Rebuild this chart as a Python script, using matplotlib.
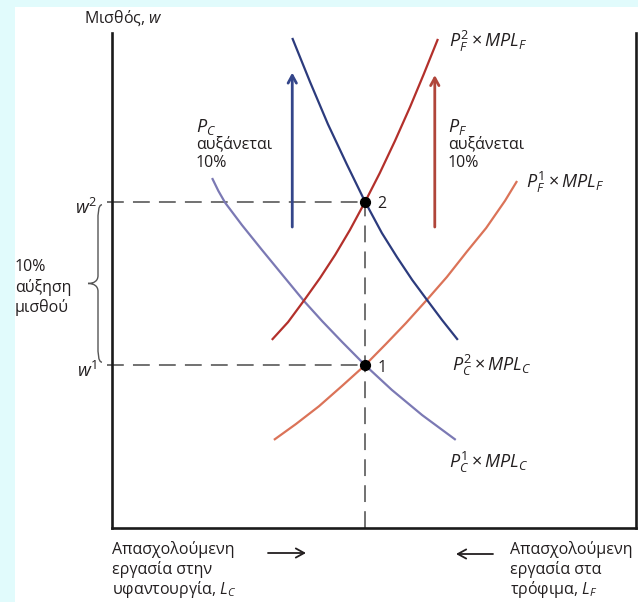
import matplotlib
matplotlib.use('Agg')
import matplotlib.pyplot as plt
from matplotlib.patches import Rectangle, PathPatch
from matplotlib.path import Path

plt.rcParams['font.family'] = ['Open Sans', 'DejaVu Sans']
plt.rcParams['mathtext.fontset'] = 'custom'
plt.rcParams['mathtext.rm'] = 'Open Sans'
plt.rcParams['mathtext.it'] = 'Open Sans:italic'
plt.rcParams['mathtext.bf'] = 'Open Sans:bold'

# ---- data (labor L on x, wage w on y; 0..100 scale) ----
L_pc2 = [34.4, 37.8, 41.2, 44.8, 48.3, 51.5, 54.4, 57.3, 60.1, 63.0, 66.0]
w_pc2 = [99.0, 90.1, 81.6, 73.5, 65.9, 59.6, 54.7, 50.1, 46.1, 42.0, 38.0]
L_pc1 = [19.1, 20.3, 21.6, 24.8, 28.6, 32.4, 36.6, 40.1, 43.9, 48.3, 53.4, 59.2, 65.6]
w_pc1 = [70.7, 68.1, 65.7, 61.2, 56.2, 51.3, 45.9, 41.8, 37.6, 32.9, 27.9, 22.8, 17.8]
L_pf2 = [30.5, 33.6, 36.6, 39.7, 42.6, 45.4, 48.3, 51.1, 54.0, 56.9, 59.5, 62.2]
w_pf2 = [38.0, 41.6, 45.9, 50.5, 55.2, 60.2, 65.9, 71.7, 78.2, 85.1, 91.7, 98.8]
L_pf1 = [30.9, 35.1, 39.5, 43.9, 48.3, 52.3, 56.1, 60.1, 63.9, 67.7, 71.4, 75.0, 77.3]
w_pf1 = [17.8, 21.0, 24.6, 28.7, 32.9, 37.2, 41.4, 46.1, 50.7, 55.8, 60.6, 66.1, 70.1]
L_eq = 48.3
w_levels = [32.9, 65.9]
eq_labels = ['1', '2']
w_labels = ['$w^1$', '$w^2$']
shift_L = [34.4, 61.6]
shift_w_from = [60.8, 60.8]
shift_w_to = [92.0, 91.5]

C_NAVY = '#2c3b7d'
C_LAV = '#7b79b4'
C_RED = '#b3302b'
C_SALMON = '#db7358'
C_TXT = '#231f20'
FS = 11.5

W, H = 638, 602
fig = plt.figure(figsize=(W / 100, H / 100), dpi=100)
fig.patch.set_facecolor('#e1fbfc')
fig.patches.append(Rectangle((15 / W, 0), 1, (H - 7) / H, transform=fig.transFigure,
                             fc='white', ec='none', zorder=-10))

ax_l, ax_r, ax_b, ax_t = 112, 636, 528, 33
ax = fig.add_axes([ax_l / W, (H - ax_b) / H, (ax_r - ax_l) / W, (ax_b - ax_t) / H])
ax.set_xlim(0, 100)
ax.set_ylim(0, 100)
ax.patch.set_alpha(0)
ax.set_xticks([])
ax.set_yticks([])
ax.spines['top'].set_visible(False)
for s in ['left', 'bottom', 'right']:
    ax.spines[s].set_linewidth(1.9)
    ax.spines[s].set_color('#1a1a1a')


def P(px, py):
    return ((px - ax_l) / (ax_r - ax_l) * 100, (ax_b - py) / (ax_b - ax_t) * 100)


def T(px, py, s, **kw):
    x, y = P(px, py)
    kw.setdefault('fontsize', FS)
    kw.setdefault('color', C_TXT)
    kw.setdefault('va', 'center')
    kw.setdefault('ha', 'left')
    ax.text(x, y, s, clip_on=False, **kw)


# dashed reference lines
dash = (0, (11, 6))
for w in w_levels:
    ax.plot([-1.0, L_eq], [w, w], color='#4a4a4a', lw=1.1, ls=dash, clip_on=False, zorder=1)
ax.plot([L_eq, L_eq], [0, max(w_levels)], color='#4a4a4a', lw=1.1, ls=dash, zorder=1)

# curves
kw_line = dict(lw=1.6, solid_joinstyle='round', solid_capstyle='butt')
ax.plot(L_pc1, w_pc1, color=C_LAV, zorder=2, **kw_line)
ax.plot(L_pf1, w_pf1, color=C_SALMON, zorder=2, **kw_line)
ax.plot(L_pc2, w_pc2, color=C_NAVY, zorder=3, **kw_line)
ax.plot(L_pf2, w_pf2, color=C_RED, zorder=3, **kw_line)

# shift arrows
for L0, a, b, c in zip(shift_L, shift_w_from, shift_w_to, ['#34468a', '#b0453a']):
    ax.annotate('', xy=(L0, b), xytext=(L0, a),
                arrowprops=dict(arrowstyle='->,head_length=0.55,head_width=0.3',
                                lw=2.0, color=c, shrinkA=0, shrinkB=0))

# equilibrium points
ax.scatter([L_eq] * len(w_levels), w_levels, s=50, color='black', zorder=5)
for w, lab in zip(w_levels, eq_labels):
    ax.text(L_eq + 2.4, w - 0.5, lab, fontsize=FS, color=C_TXT, va='center', ha='left')

# wage labels
for w, lab in zip(w_levels, w_labels):
    x, _ = P(97, 0)
    ax.text(x, w - 1.2, lab, fontsize=FS + 1.5, color=C_TXT, va='center', ha='right', clip_on=False)

# brace
xc, _ = P(98, 0)
xt, _ = P(88, 0)
xe, _ = P(102, 0)
yt, yb = w_levels[1] - 0.6, w_levels[0] + 0.6
ym = (yt + yb) / 2
verts = [(xe, yt), (xc, yt), (xc, yt - 2.0), (xc, yt - 3.2),
         (xc, ym + 1.6),
         (xc, ym + 0.5), (xc - 0.8, ym), (xt, ym),
         (xc - 0.8, ym), (xc, ym - 0.5), (xc, ym - 1.6),
         (xc, yb + 3.2),
         (xc, yb + 2.0), (xc, yb), (xe, yb)]
codes = [Path.MOVETO, Path.CURVE4, Path.CURVE4, Path.CURVE4,
         Path.LINETO,
         Path.CURVE4, Path.CURVE4, Path.CURVE4,
         Path.CURVE4, Path.CURVE4, Path.CURVE4,
         Path.LINETO,
         Path.CURVE4, Path.CURVE4, Path.CURVE4]
ax.add_patch(PathPatch(Path(verts, codes), fc='none', ec='#555555', lw=1.0, clip_on=False))

# texts
T(84, 18, 'Μισθός, $w$')
T(15, 267, '10%')
T(15, 287, 'αύξηση')
T(15, 307, 'μισθού')

T(196, 127, '$P_C$', fontsize=FS + 1.5)
T(196, 144, 'αυξάνεται')
T(196, 163, '10%')
T(448, 127, '$P_F$', fontsize=FS + 1.5)
T(448, 144, 'αυξάνεται')
T(448, 163, '10%')

MFS = FS + 1.5
T(449, 41, r'$P_F^2\times MPL_F$', fontsize=MFS)
T(526, 182, r'$P_F^1\times MPL_F$', fontsize=MFS)
T(452, 365, r'$P_C^2\times MPL_C$', fontsize=MFS)
T(449, 462, r'$P_C^1\times MPL_C$', fontsize=MFS)

T(112, 550, 'Απασχολούμενη')
T(112, 570, 'εργασία στην')
T(112, 590, 'υφαντουργία, $L_C$')
T(510, 550, 'Απασχολούμενη')
T(510, 570, 'εργασία στα')
T(510, 590, 'τρόφιμα, $L_F$')

ax.annotate('', xy=P(306, 553), xytext=P(268, 553), annotation_clip=False,
            arrowprops=dict(arrowstyle='->,head_length=0.6,head_width=0.33', lw=1.3,
                            color=C_TXT, shrinkA=0, shrinkB=0))
ax.annotate('', xy=P(456, 554), xytext=P(493, 554), annotation_clip=False,
            arrowprops=dict(arrowstyle='->,head_length=0.6,head_width=0.33', lw=1.3,
                            color=C_TXT, shrinkA=0, shrinkB=0))

fig.savefig('out.png', dpi=100, facecolor=fig.get_facecolor())
